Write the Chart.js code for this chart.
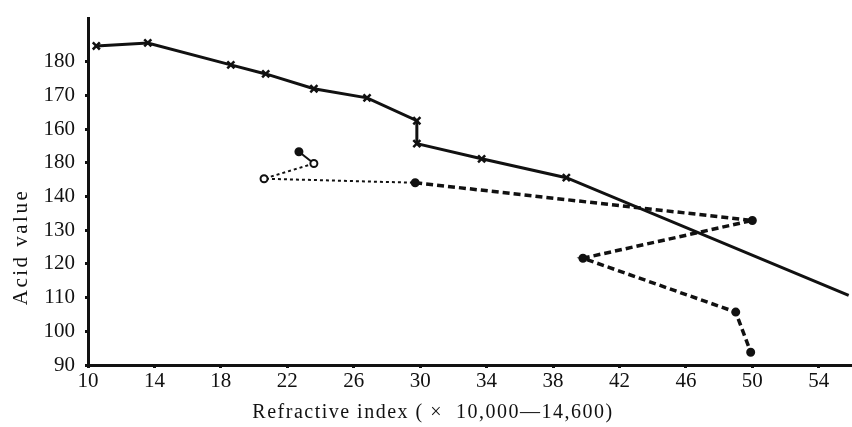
<!DOCTYPE html>
<html>
<head>
<meta charset="utf-8">
<script src="https://cdn.jsdelivr.net/npm/chart.js@4/dist/chart.umd.min.js"></script>
<style>
html,body{margin:0;padding:0;background:#fff;overflow:hidden;}
canvas{display:block;}
</style>
</head>
<body>
<canvas id="c" width="852" height="427"></canvas>
<script>
// Solid series (x markers)
const solidX = [10.5, 13.6, 18.6, 20.7, 23.6, 26.8, 29.8, 29.8, 33.7, 38.8, 55.8];
const solidY = [184.7, 185.6, 179.1, 176.4, 172.0, 169.3, 162.5, 155.7, 151.2, 145.6, 110.7];
// Dashed series (dots)
const dashX = [22.7, 23.6, 20.6, 29.7, 50.0, 39.8, 49.0, 49.9];
const dashY = [153.3, 149.8, 145.3, 144.1, 132.9, 121.7, 105.7, 93.8];
// Axis ticks and labels (as printed, including the misprinted "180" at the 150 position)
const xTicks = [10, 14, 18, 22, 26, 30, 34, 38, 42, 46, 50, 54];
const yTicks = [90, 100, 110, 120, 130, 140, 150, 160, 170, 180];
const yTickLabels = ['90', '100', '110', '120', '130', '140', '180', '160', '170', '180'];
const xTitle = 'Refractive index ( \u00d7  10,000\u201414,600)';
const yTitle = 'Acid value';

const solidPts = solidX.map((x, i) => ({x, y: solidY[i]}));
const dashPts = dashX.map((x, i) => ({x, y: dashY[i]}));
const hollow = [false, true, true, false, false, false, false, false];

const fam = '"Liberation Serif", "DejaVu Serif", serif';
const tickFont = {family: fam, size: 21};

const titlesPlugin = {
  id: 'axisTitles',
  afterDraw(chart) {
    const ctx = chart.ctx;
    ctx.save();
    ctx.fillStyle = '#111';
    ctx.textAlign = 'center';
    ctx.textBaseline = 'middle';
    ctx.font = '20px ' + fam;
    if ('letterSpacing' in ctx) ctx.letterSpacing = '1.5px';
    ctx.fillText(xTitle, 433, 413);
    ctx.translate(21, 247);
    ctx.rotate(-Math.PI / 2);
    ctx.font = '21px ' + fam;
    if ('letterSpacing' in ctx) ctx.letterSpacing = '2.5px';
    ctx.fillText(yTitle, 0, 0);
    ctx.restore();
  }
};

new Chart(document.getElementById('c'), {
  type: 'scatter',
  data: {
    datasets: [
      {
        data: solidPts,
        showLine: true,
        borderColor: '#111',
        borderWidth: 3,
        pointStyle: 'crossRot',
        pointRadius: ctx => ctx.dataIndex === solidPts.length - 1 ? 0 : 5,
        pointBorderWidth: 2.5,
        pointBorderColor: '#111',
        pointBackgroundColor: '#111',
        tension: 0
      },
      {
        data: dashPts,
        showLine: true,
        borderColor: '#111',
        borderWidth: 3,
        borderDash: [6, 4],
        segment: {
          borderDash: ctx => ctx.p0DataIndex === 0 ? [] : (ctx.p0DataIndex <= 2 ? [3, 3] : [7, 4]),
          borderWidth: ctx => ctx.p0DataIndex <= 2 ? 2 : 3.5
        },
        pointStyle: 'circle',
        pointRadius: 3.5,
        pointBorderWidth: 2,
        pointBorderColor: '#111',
        pointBackgroundColor: ctx => hollow[ctx.dataIndex] ? '#fff' : '#111',
        tension: 0
      }
    ]
  },
  options: {
    responsive: false,
    animation: false,
    layout: {autoPadding: false, padding: {top: 18, right: 0, left: 0, bottom: 0}},
    plugins: {legend: {display: false}, tooltip: {enabled: false}},
    scales: {
      x: {
        type: 'linear',
        min: 10,
        max: 56,
        afterBuildTicks: s => { s.ticks = xTicks.map(v => ({value: v})); },
        afterFit: s => { s.height = 62; s.paddingLeft = 0; s.paddingRight = 0; },
        border: {display: true, color: '#111', width: 3},
        grid: {display: true, drawOnChartArea: false, drawTicks: true, tickLength: 3, tickWidth: 3, tickColor: '#111'},
        ticks: {color: '#111', font: tickFont, padding: 1, maxRotation: 0, autoSkip: false, callback: v => String(v)},
        title: {display: false}
      },
      y: {
        type: 'linear',
        min: 90,
        max: 193,
        afterBuildTicks: s => { s.ticks = yTicks.map(v => ({value: v})); },
        afterFit: s => { s.width = 88; s.paddingTop = 0; s.paddingBottom = 0; },
        border: {display: true, color: '#111', width: 3},
        grid: {display: true, drawOnChartArea: false, drawTicks: true, tickLength: 3, tickWidth: 3, tickColor: '#111'},
        ticks: {color: '#111', font: tickFont, padding: 10, autoSkip: false,
          callback: v => { const i = yTicks.indexOf(v); return i >= 0 ? yTickLabels[i] : ''; }},
        title: {display: false}
      }
    }
  },
  plugins: [titlesPlugin]
});
</script>
</body>
</html>
